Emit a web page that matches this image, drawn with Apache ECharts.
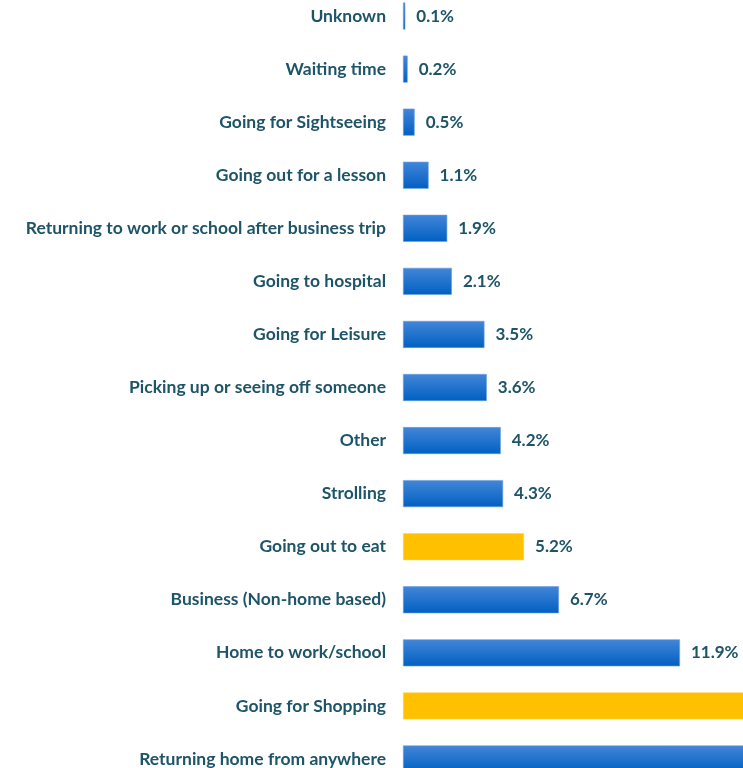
<!DOCTYPE html>
<html>
<head>
<meta charset="utf-8">
<script src="https://cdn.jsdelivr.net/npm/echarts@6/dist/echarts.min.js"></script>
<style>
  html, body { margin: 0; padding: 0; background: #ffffff; overflow: hidden; width: 743px; height: 768px; }
  #chart { position: absolute; left: 0; top: -11px; width: 1400px; height: 810px; }
</style>
</head>
<body>
<div id="chart"></div>
<script>
// Trip purposes, listed top to bottom
const purposes = [
  'Unknown',
  'Waiting time',
  'Going for Sightseeing',
  'Going out for a lesson',
  'Returning to work or school after business trip',
  'Going to hospital',
  'Going for Leisure',
  'Picking up or seeing off someone',
  'Other',
  'Strolling',
  'Going out to eat',
  'Business (Non-home based)',
  'Home to work/school',
  'Going for Shopping',
  'Returning home from anywhere'
];
// Share of trips (%)
const shares = [0.1, 0.2, 0.5, 1.1, 1.9, 2.1, 3.5, 3.6, 4.2, 4.3, 5.2, 6.7, 11.9, 16.4, 38.3];
// Purposes drawn in the highlight colour
const highlighted = ['Going out to eat', 'Going for Shopping'];

const textColor = '#1d5468';
const blueFill = new echarts.graphic.LinearGradient(0, 0, 0, 1, [
  { offset: 0, color: '#4386d8' },
  { offset: 1, color: '#0060c2' }
]);
const goldFill = '#ffc000';

const chart = echarts.init(document.getElementById('chart'), null, { renderer: 'canvas' });
chart.setOption({
  animation: false,
  grid: { left: 403, top: 0.5, width: 931, height: 796, containLabel: false },
  xAxis: {
    type: 'value', min: 0, max: 40,
    show: false
  },
  yAxis: {
    type: 'category',
    inverse: true,
    data: purposes,
    axisLine: { show: false },
    axisTick: { show: false },
    axisLabel: {
      margin: 17,
      color: textColor,
      fontFamily: 'Lato',
      fontWeight: 'bold',
      fontSize: 17.5
    }
  },
  series: [{
    type: 'bar',
    barWidth: 27,
    data: shares.map((v, i) => ({
      value: v,
      itemStyle: {
        color: highlighted.includes(purposes[i]) ? goldFill : blueFill,
        borderColor: highlighted.includes(purposes[i]) ? '#ffd34d' : '#6a9fe0',
        borderWidth: 0.6
      }
    })),
    label: {
      show: true,
      position: 'right',
      distance: 11,
      color: textColor,
      fontFamily: 'Lato',
      fontWeight: 'bold',
      fontSize: 17,
      formatter: p => p.value.toFixed(1) + '%'
    }
  }]
});
</script>
</body>
</html>
